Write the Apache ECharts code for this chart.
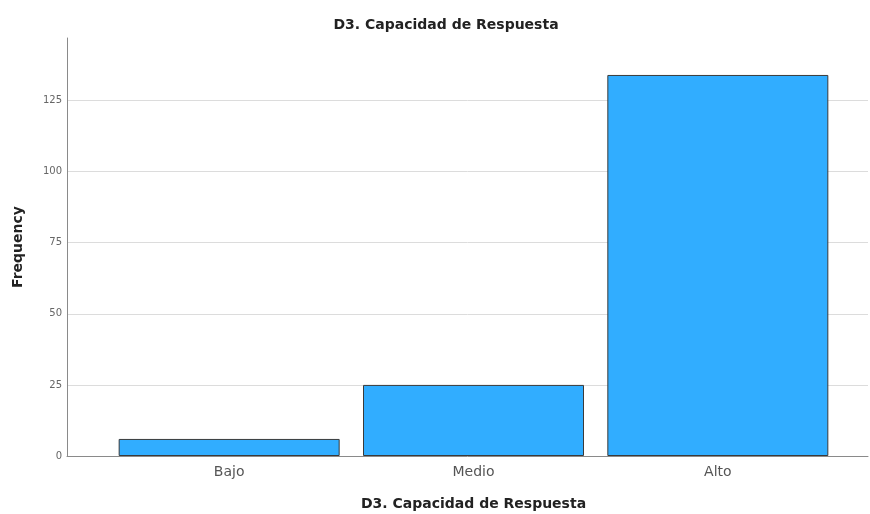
<!DOCTYPE html>
<html><head><meta charset="utf-8">
<script src="https://cdn.jsdelivr.net/npm/echarts@6/dist/echarts.min.js"></script>
<style>html,body{margin:0;padding:0;background:#fff}#c{width:870px;height:514px}</style>
</head><body><div id="c"></div>
<script>
var categories = ['Bajo', 'Medio', 'Alto'];
var frequencies = [6, 25, 134];
var yTicks = [0, 25, 50, 75, 100, 125];
var yMax = 147;

var chart = echarts.init(document.getElementById('c'), null, {renderer: 'canvas'});
var font = 'DejaVu Sans, Liberation Sans, sans-serif';
chart.setOption({
  animation: false,
  backgroundColor: '#ffffff',
  title: {
    text: 'D3. Capacidad de Respuesta', left: 441, top: 13, textAlign: 'center',
    textStyle: {fontFamily: font, fontSize: 14, fontWeight: 'bold', color: '#222'}
  },
  grid: [
    {left: 67, right: 2, top: 38, bottom: 58, outerBoundsMode: 'none', containLabel: false},
    {left: 107, right: 30, top: 38, bottom: 58, outerBoundsMode: 'none', containLabel: false}
  ],
  xAxis: [
    {gridIndex: 0, type: 'value', min: 0, max: 1,
     axisLine: {show: true, lineStyle: {color: '#8a8a8a', width: 1}},
     axisTick: {show: false}, axisLabel: {show: false}, splitLine: {show: false}},
    {gridIndex: 1, type: 'category', data: categories,
     axisLine: {show: false}, axisTick: {show: false},
     axisLabel: {fontFamily: font, fontSize: 14, color: '#555', margin: 9},
     name: 'D3. Capacidad de Respuesta', nameLocation: 'middle', nameGap: 41,
     nameTextStyle: {fontFamily: font, fontSize: 14, fontWeight: 'bold', color: '#222'}}
  ],
  yAxis: [
    {gridIndex: 0, type: 'value', min: 0, max: yMax, interval: 25,
     axisLine: {show: true, lineStyle: {color: '#8a8a8a', width: 1}},
     axisTick: {show: false},
     axisLabel: {fontFamily: font, fontSize: 10, color: '#666', margin: 5, showMaxLabel: false,
       formatter: function (v) { return yTicks.indexOf(v) >= 0 ? String(v) : ''; }},
     splitLine: {show: true, showMinLine: false, showMaxLine: false, lineStyle: {color: '#dcdcdc', width: 1}},
     name: 'Frequency', nameLocation: 'middle', nameGap: 42,
     nameTextStyle: {fontFamily: font, fontSize: 14, fontWeight: 'bold', color: '#222'}},
    {gridIndex: 1, type: 'value', min: 0, max: yMax, show: false, splitLine: {show: false}}
  ],
  series: [{
    type: 'bar', xAxisIndex: 1, yAxisIndex: 1, data: frequencies, barWidth: 221,
    itemStyle: {color: '#31adff', borderColor: '#3a3a3a', borderWidth: 1}
  }]
});
</script></body></html>
